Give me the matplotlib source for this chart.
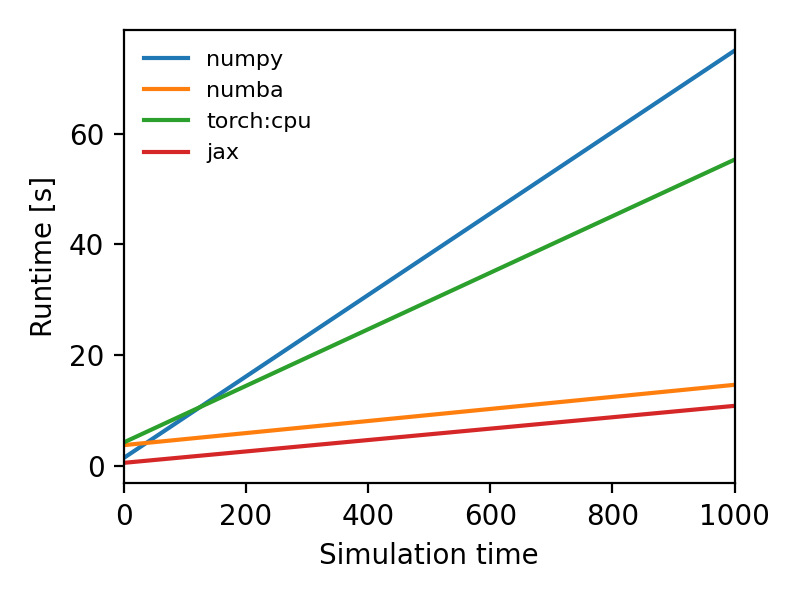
import matplotlib

matplotlib.use("Agg")
import matplotlib.pyplot as plt

sim_time = [0, 1000]
numpy_rt = [1.4, 75.0]
numba_rt = [3.7, 14.6]
torch_cpu_rt = [4.2, 55.3]
jax_rt = [0.5, 10.8]

fig, ax = plt.subplots(figsize=(4, 3), dpi=200)
ax.plot(sim_time, numpy_rt, label="numpy")
ax.plot(sim_time, numba_rt, label="numba")
ax.plot(sim_time, torch_cpu_rt, label="torch:cpu")
ax.plot(sim_time, jax_rt, label="jax")
ax.set_xlim(0, 1000)
ax.set_xlabel("Simulation time")
ax.set_ylabel("Runtime [s]")
ax.legend(frameon=False, fontsize=8)
fig.tight_layout()
fig.savefig("out.png")
